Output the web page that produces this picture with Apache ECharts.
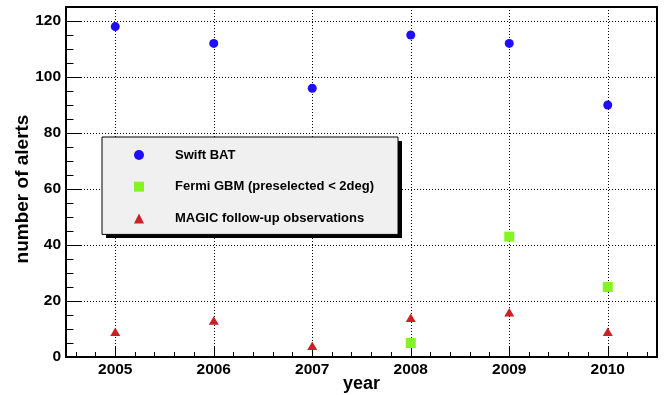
<!DOCTYPE html>
<html>
<head>
<meta charset="utf-8">
<script src="https://cdn.jsdelivr.net/npm/echarts@6/dist/echarts.min.js"></script>
<style>
  html, body { margin: 0; padding: 0; background: #ffffff; }
  #chart { width: 664px; height: 395px; }
</style>
</head>
<body>
<div id="chart"></div>
<script>
// Alerts per year
const years = [2005, 2006, 2007, 2008, 2009, 2010];
const swiftBat = [118, 112, 96, 115, 112, 90];
const fermiYears = [2008, 2009, 2010];
const fermiGbm = [5, 43, 25];
const magicFollowUp = [9, 13, 4, 14, 16, 9];

const seriesNames = ['Swift BAT', 'Fermi GBM (preselected < 2deg)', 'MAGIC follow-up observations'];
const yearTicks = years.map(String);

const FONT = '"Liberation Sans", Arial, Helvetica, sans-serif';
const dotted = () => ({ color: '#000', width: 1, type: [1, 2] });

const pairs = (xs, ys) => xs.map((x, i) => [x, ys[i]]);

const chart = echarts.init(document.getElementById('chart'), null, { renderer: 'canvas' });

chart.setOption({
  animation: false,
  backgroundColor: '#ffffff',
  grid: {
    left: 66, top: 7, width: 591, height: 350,
    outerBoundsMode: 'none', containLabel: false,
    show: true, backgroundColor: 'transparent', borderColor: '#000', borderWidth: 2
  },
  xAxis: [
    {
      type: 'value', min: 2004.5, max: 2010.5, splitNumber: 6,
      minInterval: 1, maxInterval: 1, position: 'bottom',
      axisLine: { show: true, onZero: false, lineStyle: { color: '#000', width: 2 } },
      axisTick: { show: true, inside: true, length: 11, lineStyle: { color: '#000', width: 1 } },
      axisLabel: {
        color: '#000', fontFamily: FONT, fontWeight: 'bold', fontSize: 15.5, margin: 5,
        formatter: v => {
          const i = years.indexOf(Math.round(v));
          return Math.abs(v - Math.round(v)) < 1e-6 && i >= 0 ? yearTicks[i] : '';
        }
      },
      splitLine: { show: true, lineStyle: dotted() },
      name: 'year', nameLocation: 'middle', nameGap: 18, nameMoveOverlap: false,
      nameTextStyle: { color: '#000', fontFamily: FONT, fontWeight: 'bold', fontSize: 18 }
    },
    {
      type: 'value', min: 2004.5, max: 2010.5, splitNumber: 30,
      minInterval: 0.2, maxInterval: 0.2, position: 'bottom',
      axisLine: { show: false },
      axisTick: { show: true, inside: true, length: 5, lineStyle: { color: '#000', width: 1 } },
      axisLabel: { show: false },
      splitLine: { show: false }
    }
  ],
  yAxis: [
    {
      type: 'value', min: 0, max: 125, interval: 20, position: 'left',
      axisLine: { show: true, onZero: false, lineStyle: { color: '#000', width: 2 } },
      axisTick: { show: true, inside: true, length: 15, lineStyle: { color: '#000', width: 1 } },
      axisLabel: {
        color: '#000', fontFamily: FONT, fontWeight: 'bold', fontSize: 15.5, margin: 5,
        formatter: v => (v % 20 === 0 ? String(v) : '')
      },
      splitLine: { show: true, lineStyle: dotted() }
    },
    {
      type: 'value', min: 0, max: 125, interval: 5, position: 'left',
      axisLine: { show: false },
      axisTick: { show: true, inside: true, length: 7.5, lineStyle: { color: '#000', width: 1 } },
      axisLabel: { show: false },
      splitLine: { show: false }
    }
  ],
  legend: {
    orient: 'vertical', left: 102, top: 137, z: 6,
    padding: [10, 24, 8, 32], itemGap: 15.7,
    itemWidth: 10, itemHeight: 10,
    backgroundColor: '#f0f0f0', borderColor: '#000', borderWidth: 1,
    data: seriesNames,
    formatter: name => '{gap|}' + name,
    textStyle: {
      color: '#000', fontFamily: FONT, fontWeight: 'bold', fontSize: 13, lineHeight: 16,
      rich: { gap: { width: 26 } }
    }
  },
  graphic: [
    {
      // drop shadow behind the legend box
      type: 'rect', z: 5, silent: true,
      shape: { x: 106, y: 141, width: 296, height: 97 },
      style: { fill: '#000' }
    },
    {
      type: 'text', x: 23, y: 189, rotation: Math.PI / 2,
      style: {
        text: 'number of alerts', fill: '#000', font: 'bold 19px ' + FONT,
        align: 'center', verticalAlign: 'middle'
      }
    }
  ],
  series: [
    {
      name: seriesNames[0], type: 'scatter', symbol: 'circle', symbolSize: 9,
      itemStyle: { color: '#1f0dff', opacity: 1 }, data: pairs(years, swiftBat), z: 5
    },
    {
      name: seriesNames[1], type: 'scatter', symbol: 'rect', symbolSize: 10,
      itemStyle: { color: '#84f520', opacity: 1 }, data: pairs(fermiYears, fermiGbm), z: 5
    },
    {
      name: seriesNames[2], type: 'scatter', symbol: 'triangle', symbolSize: [10, 8.5],
      itemStyle: { color: '#cc1f26', opacity: 1 }, data: pairs(years, magicFollowUp), z: 5
    }
  ]
});
</script>
</body>
</html>
